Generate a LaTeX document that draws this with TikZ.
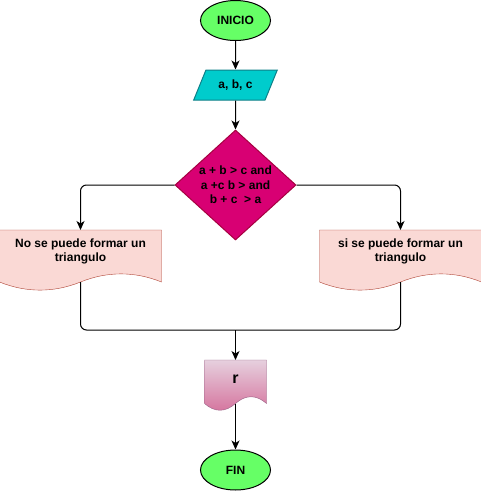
\documentclass[tikz,border=0pt]{standalone}
\usepackage{fontspec}
\setmainfont{Liberation Sans}
\usetikzlibrary{shapes.geometric,arrows.meta,backgrounds}

\definecolor{verde}{HTML}{66FF66}
\definecolor{cian}{HTML}{00CCCC}
\definecolor{cianborde}{HTML}{0E8088}
\definecolor{rosa}{HTML}{D80073}
\definecolor{rosaborde}{HTML}{A50040}
\definecolor{salmon}{HTML}{FAD9D5}
\definecolor{salmonborde}{HTML}{AE4132}
\definecolor{lilaclaro}{HTML}{E6D0DE}
\definecolor{lilaoscuro}{HTML}{D5739D}
\definecolor{lilaborde}{HTML}{996185}

\tikzset{
	terminal/.style={ellipse, draw=black, fill=verde, minimum width=70, minimum height=40, inner sep=0pt},
	entrada/.style={trapezium, trapezium left angle=56.3, trapezium right angle=123.7, trapezium stretches=true,
		minimum width=84, minimum height=30, inner sep=0pt, draw=cianborde, fill=cian},
	decision/.style={diamond, aspect=1.1, draw=rosaborde, fill=rosa, minimum width=121, minimum height=110,
		inner sep=0pt, align=center},
	documento/.style={minimum width=161, minimum height=51, inner sep=0pt, text depth=11.2pt, align=center},
	salida/.style={minimum width=61, minimum height=42.5, inner sep=0pt, text depth=4.5pt,
		font=\bfseries\fontsize{16}{19.2}\selectfont},
	papel/.style={draw=salmonborde, fill=salmon},
	papelr/.style={draw=lilaborde, top color=lilaclaro, bottom color=lilaoscuro},
	linea/.style={draw, rounded corners=6pt},
	flecha/.style={linea, -{Stealth[length=9pt, width=8pt, inset=2.5pt]}}
}

\begin{document}
\begin{tikzpicture}[x=1pt, y=-1pt, line width=1pt, font=\bfseries\fontsize{12}{14.4}\selectfont]

	\useasboundingbox (0,0) rectangle (481,491);

	\node [terminal] (inicio) at (235.5,20.5) {INICIO};
	\node [entrada] (datos) at (235.5,85) {a, b, c};
	\node [decision] (cond) at (235.5,185) {a + b > c and\\a +c b > and\\b + c \ > a};
	\node [documento, anchor=north] (nopuede) at (80.5,230) {No se puede formar un\\triangulo};
	\node [documento, anchor=north] (sipuede) at (400.5,230) {si se puede formar un\\triangulo};
	\node [salida, anchor=north] (resultado) at (235.5,360) {r};
	\node [terminal] (fin) at (235.5,470) {FIN};
	\coordinate (unir) at (235.5,330);

	\begin{scope}[on background layer]
		\path [papel] (nopuede.north west) -- (nopuede.north east) -- (nopuede.south east)
			.. controls +(-26.8,-10.8) and +(26.8,-10.8) .. (nopuede.south)
			.. controls +(-26.8,10.8) and +(26.8,10.8) .. (nopuede.south west) -- cycle;
		\path [papel] (sipuede.north west) -- (sipuede.north east) -- (sipuede.south east)
			.. controls +(-26.8,-10.8) and +(26.8,-10.8) .. (sipuede.south)
			.. controls +(-26.8,10.8) and +(26.8,10.8) .. (sipuede.south west) -- cycle;
		\path [papelr] (resultado.north west) -- (resultado.north east) -- (resultado.south east)
			.. controls +(-10.2,-9) and +(10.2,-9) .. (resultado.south)
			.. controls +(-10.2,9) and +(10.2,9) .. (resultado.south west) -- cycle;
	\end{scope}

	\draw [flecha] (inicio) -- (datos);
	\draw [flecha] (datos) -- (cond);
	\draw [flecha] (cond.west) -| (nopuede.north);
	\draw [flecha] (cond.east) -| (sipuede.north);
	\draw [linea] (nopuede.south) |- (unir);
	\draw [linea] (sipuede.south) |- (unir);
	\draw [flecha] (unir) -- (resultado.north);
	\draw [flecha] (resultado.south) -- (fin);
\end{tikzpicture}
\end{document}
